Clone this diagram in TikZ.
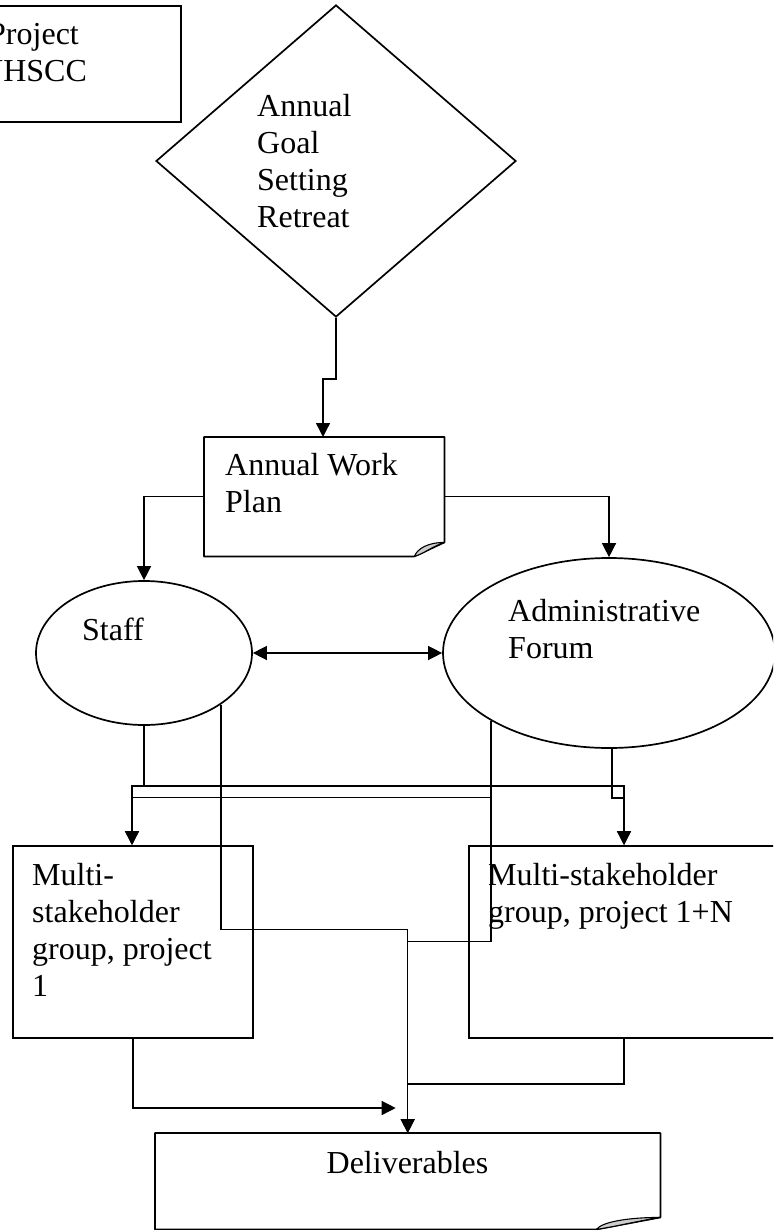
\documentclass[tikz,border=0pt]{standalone}
\usepackage{fontspec}
\setmainfont{Liberation Serif}
\usetikzlibrary{shapes.geometric,arrows.meta,calc}
\begin{document}
\begin{tikzpicture}[x=1pt,y=-1pt,
  outline/.style={draw=black, line width=1.7pt},
  box/.style={rectangle, outline, inner sep=0pt, anchor=north west},
  blank/.style={rectangle, draw=none, inner sep=0pt, anchor=north west},
  txt/.style={font=\fontsize{32}{37}\selectfont, align=left, inner sep=0pt, anchor=base west},
  link/.style={line width=1.4pt},
  arr/.style={link, -{Triangle[length=14pt,width=14pt]}},
  twoway/.style={link, {Triangle[length=14pt,width=14pt]}-{Triangle[length=14pt,width=14pt]}},
  flap/.style={fill=black!20, draw=black, line width=1.1pt, line join=round}
]
\useasboundingbox (0,0) rectangle (773,1230);
\clip (0,0) rectangle (773,1230);

% project box, running off the left edge (text anchored at its last baseline)
\node[box, minimum width=200, minimum height=116] (proj) at (-20,5) {};
\node[txt] (projtxt) at (-20,82) {\hspace*{8pt}Project\\NHSCC};

% retreat (decision diamond)
\node[diamond, outline, minimum width=360, minimum height=312, inner sep=0pt] (goal) at (336,161) {};
\node[txt] (goaltxt) at (257,228) {Annual\\Goal\\Setting\\Retreat};

% annual work plan (folded-corner document)
\node[blank, minimum width=240, minimum height=119] (plan) at (204,437) {};
\draw[outline, line join=round] (plan.north west) -- (plan.north east)
  -- ($(plan.south east)+(0,-14)$) -- ($(plan.south east)+(-30,0)$)
  -- (plan.south west) -- cycle;
\draw[flap] ($(plan.south east)+(-30,0)$) .. controls +(3,-8) and +(-16,0) .. ($(plan.south east)+(0,-14)$)
  .. controls +(-12,4) and +(10,-3) .. cycle;
\node[txt] (plantxt) at (225,512) {Annual Work\\Plan};

% staff and forum
\node[ellipse, outline, minimum width=216, minimum height=144, inner sep=0pt] (staff) at (144,653) {};
\node[txt] (stafftxt) at (82,640) {Staff};
\node[ellipse, outline, minimum width=332, minimum height=190, inner sep=0pt] (admin) at (609,653) {};
\node[txt] (admintxt) at (508,658) {Administrative\\Forum};

% project groups
\node[box, minimum width=240, minimum height=192] (grp1) at (12,845) {};
\node[txt] (grp1txt) at (32,996) {Multi-\\stakeholder\\group, project\\1};
\node[box, minimum width=340, minimum height=192] (grpN) at (468,845) {};
\node[txt] (grpNtxt) at (488,922) {Multi-stakeholder\\group, project 1+N};

% deliverables (folded-corner document)
\node[blank, minimum width=505, minimum height=96] (deliv) at (155,1133) {};
\draw[outline, line join=round] (deliv.north west) -- (deliv.north east)
  -- ($(deliv.south east)+(0,-12)$) -- ($(deliv.south east)+(-64,0)$)
  -- (deliv.south west) -- cycle;
\draw[flap] ($(deliv.south east)+(-64,0)$) .. controls +(6,-8) and +(-30,0) .. ($(deliv.south east)+(0,-12)$)
  .. controls +(-25,4) and +(20,-3) .. cycle;
\node[font=\fontsize{32}{37}\selectfont, inner sep=0pt, anchor=base] (delivtxt) at (407.5,1173) {Deliverables};

% connectors
\draw[arr] (goal.south) -- ++(0,61) -| ($(plan.north west)+(119,0)$);
\draw[arr] (plan.west) -| (staff.north);
\draw[arr] (plan.east) -| (admin.north);
\draw[twoway] (staff.east) -- (admin.west);

\draw[arr] (staff.south) -- ++(0,60) -| ($(grp1.north west)+(120,0)$);
\draw[arr] (staff.south) -- ++(0,60) -| ($(grpN.north west)+(156,0)$);
\draw[arr] ($(admin.south)+(3,0)$) -- ++(0,49) -| ($(grpN.north west)+(156,0)$);
\draw[arr] (admin.south west) -- ++(0,77) -| ($(grp1.north west)+(120,0)$);

\draw[arr] (staff.south east) -- ++(0,225) -| (deliv.north);
\draw[arr] (admin.south west) -- ++(0,221) -| (deliv.north);
\draw[arr] (grp1.south) |- ($(deliv.north)+(-12,-25)$);
\draw[link] ($(grpN.south west)+(156,0)$) |- ($(deliv.north)+(0,-49)$);
\end{tikzpicture}
\end{document}
